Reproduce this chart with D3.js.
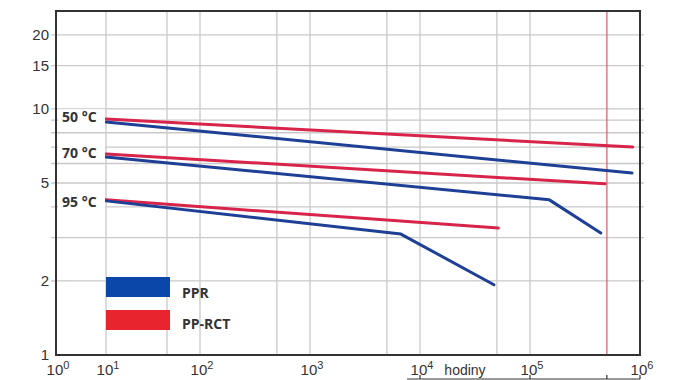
<!DOCTYPE html>
<html lang="cs">

<head>
  <meta charset="utf-8">
  <title> PPR vs PP-RCT </title>
  <script src="https://d3js.org/d3.v7.min.js"> </script>
  <style>
    body {
      margin: 0;
      background: #fff;
    }

    text {
      fill: #333;
    }

    .tick-label {
      font: 15px "Liberation Sans Narrow", "Arial Narrow", sans-serif;
    }

    .temp-label,
    .legend-label {
      font: bold 14px "Open Sans", sans-serif;
    }
  </style>
</head>

<body>
  <script>
    // hours / stress values
    var ppr50 = [[10, 8.85], [8.46e5, 5.49]];
    var ppr70 = [[10, 6.38], [1.5e5, 4.27], [4.4e5, 3.13]];
    var ppr95 = [[10, 4.23], [6.7e3, 3.10], [4.7e4, 1.93]];
    var rct50 = [[10, 9.1], [8.6e5, 7.0]];
    var rct70 = [[10, 6.56], [4.8e5, 4.96]];
    var rct95 = [[10, 4.27], [5.15e4, 3.28]];

    var tempLabels = [["50 °C", 9.25], ["70 °C", 6.6], ["95 °C", 4.2]];
    var yTicks = [1, 2, 5, 10, 15, 20];
    var yGrid = [2, 3, 4, 5, 6, 7, 8, 9, 10, 15, 20];
    var xDecades = [0, 1, 2, 3, 4, 5, 6];
    var xGrid = [10, 50, 100, 500, 1e3, 5e3, 1e4, 5e4, 1e5];
    var limitX = 5e5;
    var hoursTicks = [1e4, 1e5, 5e5, 1e6];

    var blue = "#1d3f95",
      red = "#d8244b";

    var svg = d3.select("body")
      .append("svg")
      .attr("width", 674)
      .attr("height", 380);

    // x: log axis, the lower decades are drawn narrower in the original
    var x = d3.scaleLog()
      .domain([1, 10, 50, 100, 1e3, 1e4, 1e5, 1e6])
      .range([56, 106, 167, 200, 310, 420, 530, 640]);

    var y = d3.scaleLog()
      .domain([1, 25])
      .range([355, 11]);

    // grid
    svg.selectAll(".hgrid")
      .data(yGrid)
      .enter().append("line")
      .attr("x1", x(1) - 5).attr("x2", x(1e6) + 4)
      .attr("y1", function(d) { return y(d); })
      .attr("y2", function(d) { return y(d); })
      .attr("stroke", "#c9c9c9")
      .attr("stroke-width", 1.3);

    svg.selectAll(".vgrid")
      .data(xGrid)
      .enter().append("line")
      .attr("x1", function(d) { return x(d); })
      .attr("x2", function(d) { return x(d); })
      .attr("y1", y(25)).attr("y2", y(1))
      .attr("stroke", "#c9c9c9")
      .attr("stroke-width", 1.3);

    svg.append("line")
      .attr("x1", x(limitX)).attr("x2", x(limitX))
      .attr("y1", y(25)).attr("y2", y(1))
      .attr("stroke", "#e0566a")
      .attr("stroke-width", 1.2);

    // frame
    svg.append("rect")
      .attr("x", x(1)).attr("y", y(25))
      .attr("width", x(1e6) - x(1))
      .attr("height", y(1) - y(25))
      .attr("fill", "none")
      .attr("stroke", "#333")
      .attr("stroke-width", 2);

    // y labels
    svg.selectAll(".ylab")
      .data(yTicks)
      .enter().append("text")
      .attr("class", "tick-label")
      .attr("x", 49)
      .attr("y", function(d) { return y(d) + 5; })
      .attr("text-anchor", "end")
      .text(function(d) { return d; });

    // x labels 10^n
    var xl = svg.selectAll(".xlab")
      .data(xDecades)
      .enter().append("text")
      .attr("class", "tick-label")
      .attr("x", function(d) { return x(Math.pow(10, d)) + 2; })
      .attr("y", 375)
      .attr("text-anchor", "middle");
    xl.append("tspan").text("10");
    xl.append("tspan")
      .attr("dy", -6)
      .style("font-size", "11px")
      .text(function(d) { return d; });

    // hodiny scale line
    svg.append("line")
      .attr("x1", 407).attr("x2", x(1e6))
      .attr("y1", 379).attr("y2", 379)
      .attr("stroke", "#333").attr("stroke-width", 1.2);
    svg.selectAll(".htick")
      .data(hoursTicks)
      .enter().append("line")
      .attr("x1", function(d) { return x(d); })
      .attr("x2", function(d) { return x(d); })
      .attr("y1", 375).attr("y2", 379)
      .attr("stroke", "#333").attr("stroke-width", 1.2);
    svg.append("text")
      .attr("class", "tick-label")
      .attr("x", 465).attr("y", 375)
      .attr("text-anchor", "middle")
      .style("font-size", "14px")
      .text("hodiny");

    // curves
    var line = d3.line()
      .x(function(d) { return x(d[0]); })
      .y(function(d) { return y(d[1]); });

    [[rct50, red], [ppr50, blue], [rct70, red], [ppr70, blue], [rct95, red], [ppr95, blue]]
    .forEach(function(s) {
      svg.append("path")
        .datum(s[0])
        .attr("d", line)
        .attr("fill", "none")
        .attr("stroke", s[1])
        .attr("stroke-width", 3)
        .attr("stroke-linecap", "round")
        .attr("stroke-linejoin", "round");
    });

    // temperature labels on white
    tempLabels.forEach(function(t) {
      svg.append("rect")
        .attr("x", x(1) + 2).attr("y", y(t[1]) - 8)
        .attr("width", 47).attr("height", 16)
        .attr("fill", "#fff");
      svg.append("text")
        .attr("class", "temp-label")
        .attr("x", 62).attr("y", y(t[1]) + 5)
        .text(t[0]);
    });

    // legend
    var legend = [["PPR", "#0a47a9"], ["PP-RCT", "#e8242f"]];
    legend.forEach(function(l, i) {
      svg.append("rect")
        .attr("x", 106).attr("y", 277 + i * 33)
        .attr("width", 64).attr("height", 20)
        .attr("fill", l[1]);
      svg.append("text")
        .attr("class", "legend-label")
        .attr("x", 182).attr("y", 298 + i * 31)
        .text(l[0]);
    });
  </script>
</body>

</html>
